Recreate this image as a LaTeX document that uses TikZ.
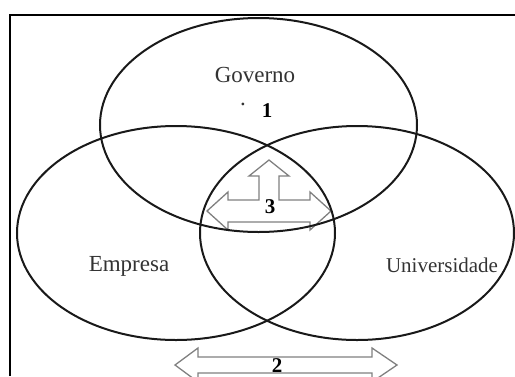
\documentclass[tikz,border=0pt]{standalone}
\usepackage{fontspec}
\setmainfont{Liberation Serif}
\begin{document}
\begin{tikzpicture}[x=1pt,y=-1pt,
  frameline/.style={line width=2.2pt,black},
  setline/.style={line width=2pt,black!90},
  hollowarrow/.style={draw=black!50,line width=1.3pt,line join=miter},
  setlabel/.style={anchor=base,inner sep=0pt,text=black!80,font=\fontsize{23}{26}\selectfont},
  numlabel/.style={anchor=base,inner sep=0pt,text=black,font=\fontsize{21}{24}\selectfont\bfseries}]
\useasboundingbox (0,0) rectangle (515,376);

% open frame: top and left edges
\coordinate (fa) at (10,376);
\coordinate (fb) at (10,15);
\coordinate (fc) at (515,15);
\draw[frameline] (fa) -- (fb) -- (fc);

% three-way hollow arrow in the shared region
\draw[hollowarrow] (269,160) -- (289,176) -- (279,176) -- (279,200) -- (310,200)
  -- (310,192) -- (331,211) -- (310,230) -- (310,222) -- (228,222) -- (228,230)
  -- (207,211) -- (228,192) -- (228,200) -- (259,200) -- (259,176) -- (249,176) -- cycle;

% double-headed hollow arrow below the sets
\draw[hollowarrow] (175,365) -- (198,348) -- (198,357) -- (372,357) -- (372,348)
  -- (397,365) -- (372,382) -- (372,373) -- (198,373) -- (198,382) -- cycle;

% the three sets
\draw[setline] (258.5,125) ellipse [x radius=158.5, y radius=107];
\draw[setline] (176,233) ellipse [x radius=159, y radius=107];
\draw[setline] (357,233) ellipse [x radius=157, y radius=107];

% labels
\node[setlabel] (gov) at (255,82) {Governo};
\node[setlabel] (emp) at (129,271) {Empresa};
\node[setlabel,font=\fontsize{21}{24}\selectfont] (uni) at (442,272) {Universidade};
\node[setlabel] (dot) at (243,105) {.};
\node[numlabel] (n1) at (267,117) {1};
\node[numlabel] (n3) at (270,213) {3};
\node[numlabel] (n2) at (277,372) {2};
\end{tikzpicture}
\end{document}
